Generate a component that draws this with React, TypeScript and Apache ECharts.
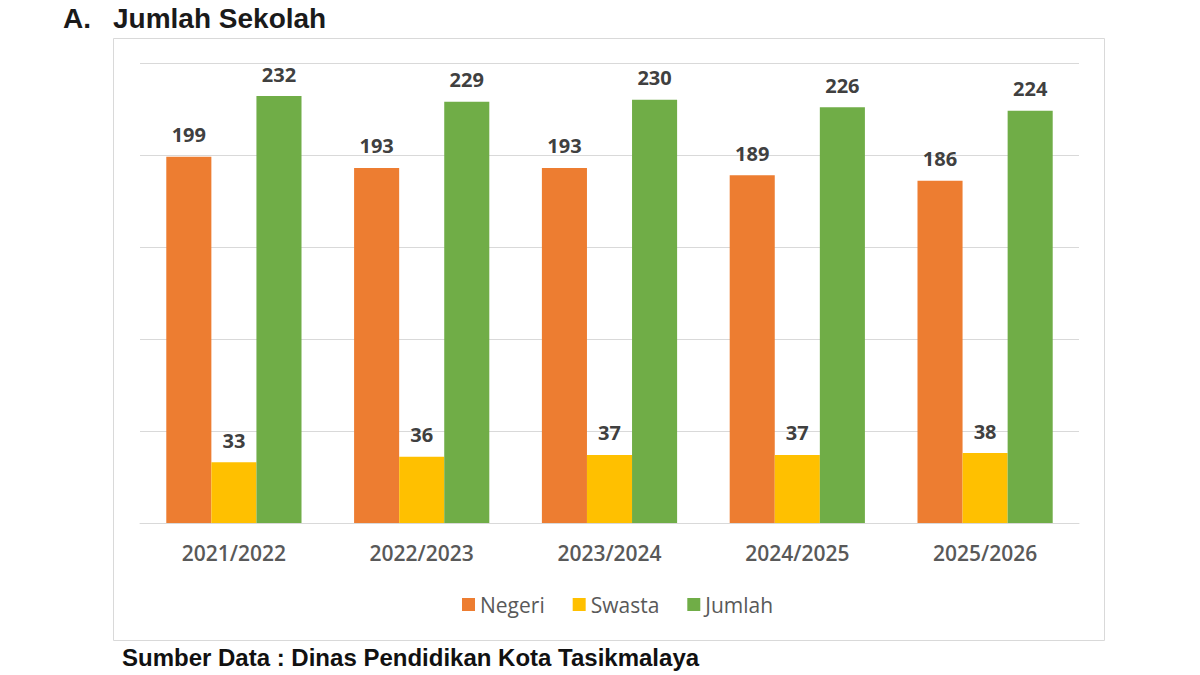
import React, { useEffect, useRef } from "react";
import * as echarts from "echarts";

const categories = ["2021/2022", "2022/2023", "2023/2024", "2024/2025", "2025/2026"];
const negeri = [199, 193, 193, 189, 186];
const swasta = [33, 36, 37, 37, 38];
const jumlah = [232, 229, 230, 226, 224];
const seriesNames = ["Negeri", "Swasta", "Jumlah"];
const colors = ["#ED7D31", "#FFC000", "#70AD47"];

export default function App() {
  const ref = useRef<HTMLDivElement>(null);
  useEffect(() => {
    if (!ref.current) return;
    const chart = echarts.init(ref.current, null, { renderer: "svg" });
    const values = [negeri, swasta, jumlah];
    const labelStyle = {
      show: true,
      position: "top",
      distance: 12,
      fontFamily: "Open Sans",
      fontWeight: "bold",
      fontSize: 20,
      color: "#404040",
    };
    chart.setOption({
      animation: false,
      backgroundColor: "#ffffff",
      graphic: [
        {
          type: "rect",
          shape: { x: 113.5, y: 38.5, width: 991, height: 602 },
          style: { fill: "none", stroke: "#d9d9d9", lineWidth: 1 },
          z: -1,
        },
        {
          type: "text",
          left: 63,
          top: 4,
          style: { text: "A.", font: "bold 28px 'Liberation Sans'", fill: "#1a1a1a" },
        },
        {
          type: "text",
          left: 113,
          top: 4,
          style: { text: "Jumlah Sekolah", font: "bold 28px 'Liberation Sans'", fill: "#1a1a1a" },
        },
        {
          type: "text",
          left: 122,
          top: 645,
          style: {
            text: "Sumber Data : Dinas Pendidikan Kota Tasikmalaya",
            font: "bold 24px 'Liberation Sans'",
            fill: "#111111",
          },
        },
      ],
      legend: {
        data: seriesNames,
        left: 457,
        top: 589,
        itemWidth: 13,
        itemHeight: 13,
        itemGap: 28,
        icon: "rect",
        textStyle: { fontFamily: "Open Sans", fontSize: 21, color: "#595959" },
      },
      grid: { left: 140, right: 121, top: 63, bottom: 152 },
      xAxis: {
        type: "category",
        data: categories,
        axisLine: { show: true, lineStyle: { color: "#d9d9d9", width: 1 } },
        axisTick: { show: false },
        axisLabel: {
          margin: 19,
          fontFamily: "Open Sans",
          fontWeight: 600,
          fontSize: 21,
          color: "#595959",
        },
      },
      yAxis: {
        type: "value",
        min: 0,
        max: 250,
        interval: 50,
        axisLabel: { show: false },
        axisLine: { show: false },
        axisTick: { show: false },
        splitLine: { lineStyle: { color: "#d9d9d9", width: 1 } },
      },
      series: seriesNames.map((name, i) => ({
        name,
        type: "bar",
        data: values[i],
        barGap: "0%",
        barCategoryGap: "28%",
        itemStyle: { color: colors[i] },
        label: labelStyle,
      })),
    });
    return () => chart.dispose();
  }, []);
  return (
    <div
      ref={ref}
      style={{ position: "fixed", left: 0, top: 0, width: 1200, height: 675 }}
    />
  );
}
